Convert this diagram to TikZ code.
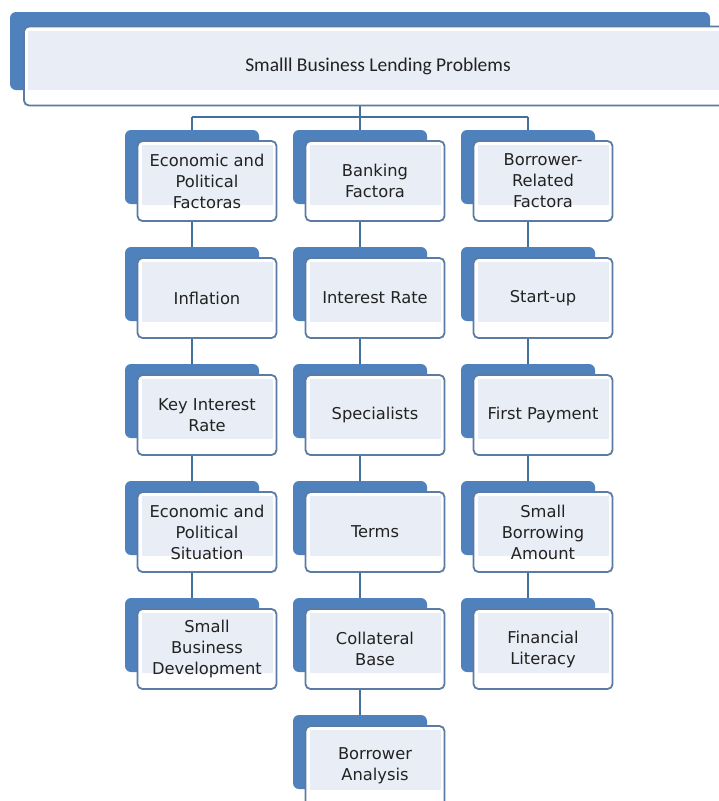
\documentclass[tikz,border=0pt]{standalone}
\usepackage{fontspec}
\usepackage{tikz}
\usetikzlibrary{calc, positioning, backgrounds}
\newfontfamily\boxfont{DejaVu Sans}
\newfontfamily\titlefont{Carlito}
\definecolor{backblue}{HTML}{4F81BD}
\definecolor{frontline}{HTML}{5A7BA3}
\definecolor{innerfill}{HTML}{E8EDF6}
\definecolor{linkblue}{HTML}{41719C}
\definecolor{textgray}{HTML}{222222}

% one stacked box: name, x and y of the blue back, text
\newcommand{\lendbox}[4]{%
  \fill[backfill] (#2,#3) rectangle ++(134,74);
  \node[frontbox] (#1) at (#2+82,#3+51) {#4};
}

\begin{document}
\begin{tikzpicture}[x=1pt, y=-1pt,
    backfill/.style={fill=backblue, rounded corners=6pt},
    frontbox/.style={draw=frontline, line width=1.8pt, fill=white,
      rounded corners=5pt, minimum width=139pt, minimum height=80pt,
      inner sep=0pt, align=center, text=textgray,
      font=\boxfont\fontsize{16.3}{21}\selectfont,
      path picture={\fill[innerfill, sharp corners]
        ([xshift=4pt,yshift=-4pt]path picture bounding box.north west) rectangle
        ([xshift=-4pt,yshift=16pt]path picture bounding box.south east);}},
    link/.style={draw=linkblue, line width=2.2pt}]
    \useasboundingbox (0,0) rectangle (719,801);
    \clip (0,0) rectangle (719,801);

    % top box
    \fill[backfill] (10,12) rectangle (710,90);
    \node[frontbox, minimum width=708pt, minimum height=79pt,
      font=\titlefont\fontsize{19.5}{22}\selectfont] (top) at (378,66)
      {Smalll Business Lending Problems};

    % first column
    \lendbox{a1}{125}{130}{Economic and\\Political\\Factoras}
    \lendbox{a2}{125}{247}{Inflation}
    \lendbox{a3}{125}{364}{Key Interest\\Rate}
    \lendbox{a4}{125}{481}{Economic and\\Political\\Situation}
    \lendbox{a5}{125}{598}{Small\\Business\\Development}

    % second column
    \lendbox{b1}{293}{130}{Banking\\Factora}
    \lendbox{b2}{293}{247}{Interest Rate}
    \lendbox{b3}{293}{364}{Specialists}
    \lendbox{b4}{293}{481}{Terms}
    \lendbox{b5}{293}{598}{Collateral\\Base}
    \lendbox{b6}{293}{715}{Borrower\\Analysis}

    % third column
    \lendbox{c1}{461}{130}{Borrower-\\Related\\Factora}
    \lendbox{c2}{461}{247}{Start-up}
    \lendbox{c3}{461}{364}{First Payment}
    \lendbox{c4}{461}{481}{Small\\Borrowing\\Amount}
    \lendbox{c5}{461}{598}{Financial\\Literacy}

    % connectors behind the boxes
    \coordinate (hubA) at (192,117);
    \coordinate (hubB) at (360,117);
    \coordinate (hubC) at (528,117);
    \begin{pgfonlayer}{background}
      \draw[link] (top.south -| hubB) -- (hubB);
      \draw[link] (hubA) -- (hubC);
      \draw[link] (hubA) -- (hubA |- a5.north);
      \draw[link] (hubB) -- (hubB |- b6.north);
      \draw[link] (hubC) -- (hubC |- c5.north);
    \end{pgfonlayer}
\end{tikzpicture}
\end{document}
